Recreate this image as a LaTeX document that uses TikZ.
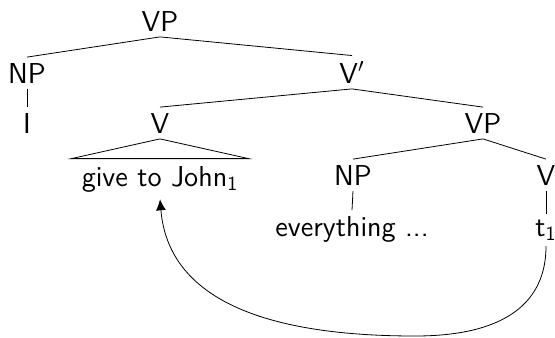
\documentclass[tikz,border=0pt]{standalone}
\usetikzlibrary{arrows.meta}
\begin{document}
\begin{tikzpicture}[x=0.5pt,y=-0.5pt,
  lbl/.style={font=\sffamily\fontsize{14.4}{17}\selectfont, inner sep=2.75pt, anchor=base}]
\useasboundingbox (0,0) rectangle (555,337);

% Labels
\node[lbl] (vp) at (160,31) {VP};
\node[lbl] (np) at (27,83) {NP};
\node[lbl] (vbar) at (352,83) {V$'$};
\node[lbl] (i) at (27,133) {I};
\node[lbl] (v) at (160,133) {V};
\node[lbl] (vp2) at (483,133) {VP};
\node[lbl, inner xsep=5pt, inner ysep=3.5pt] (give) at (160,186) {give to John\textsubscript{1}};
\node[lbl] (np2) at (353,185) {NP};
\node[lbl] (v2) at (546,185) {V};
\node[lbl] (every) at (352,236) {everything ...};
\node[lbl] (t) at (546,236) {t\textsubscript{1}};

% Branches
\draw (vp.south) -- (np.north);
\draw (vp.south) -- (vbar.north);
\draw (np.south) -- (i.north);
\draw (vbar.south) -- (v.north);
\draw (vbar.south) -- (vp2.north);
\draw (vp2.south) -- (np2.north);
\draw (vp2.south) -- (v2.north);
\draw (np2.south) -- (every.north);
\draw (v2.south) -- (t.north);

% Triangle
\draw (v.south) -- (give.north west) -- (give.north east) -- cycle;

% Movement arrow
\coordinate (low) at (415,336);
\draw[-{Latex[length=5.5pt,width=5pt]}] (t.south) .. controls +(0,55) and +(92,0) .. (low)
  .. controls +(-160,0) and +(8,95) .. (give.south);
\end{tikzpicture}
\end{document}
